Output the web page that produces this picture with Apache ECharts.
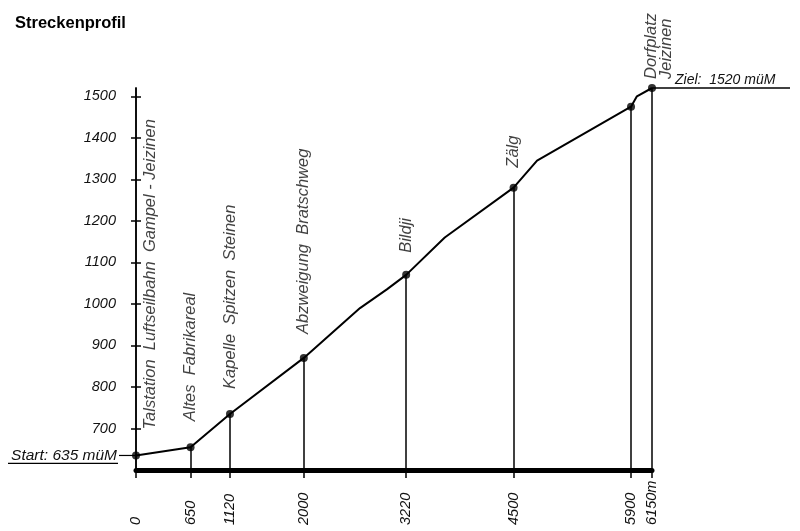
<!DOCTYPE html>
<html>
<head>
<meta charset="utf-8">
<script src="https://cdn.jsdelivr.net/npm/echarts@6/dist/echarts.min.js"></script>
<style>html,body{margin:0;padding:0;background:#fff}#main{width:800px;height:531px}</style>
</head>
<body>
<div id="main"></div>
<script>
// Streckenprofil Gampel - Jeizinen
var profileDist = [0, 650, 1120, 2000, 2670, 2990, 3220, 3680, 4500, 4780, 5900, 5970, 6150];
var profileHeight = [635, 655, 735, 870, 990, 1035, 1070, 1160, 1280, 1345, 1475, 1500, 1520];
var stationDist = [0, 650, 1120, 2000, 3220, 4500, 5900, 6150];
var stationHeight = [635, 655, 735, 870, 1070, 1280, 1475, 1520];
var stationNames = [
  'Talstation  Luftseilbahn  Gampel - Jeizinen',
  'Altes  Fabrikareal',
  'Kapelle  Spitzen  Steinen',
  'Abzweigung  Bratschweg',
  'Bildji',
  'Zälg',
  '',
  'Dorfplatz\nJeizinen'
];
var labelGap = [22, 22, 21, 20, 18, 16, 0, 5];
var yTicks = [700, 800, 900, 1000, 1100, 1200, 1300, 1400, 1500];

var FONT = 'Liberation Sans';
var chartDom = document.getElementById('main');
var myChart = echarts.init(chartDom);

var stationData = stationDist.map(function (d, i) {
  var item = { value: [d, stationHeight[i]] };
  item.label = { distance: labelGap[i] };
  if (i === 0) item.label.offset = [0, 14];
  if (i === stationDist.length - 1) item.label.offset = [0, 7];
  return item;
});

var dropLines = stationDist.slice(1).map(function (d, i) {
  return [{ coord: [d, 600] }, { coord: [d, stationHeight[i + 1]] }];
});

var yBase = {
  type: 'value', position: 'left', min: 600, max: 1520,
  axisLine: { show: true, lineStyle: { color: '#000', width: 1.5 } },
  splitLine: { show: false }
};

var option = {
  backgroundColor: '#fff',
  animation: false,
  title: {
    text: 'Streckenprofil', left: 10, top: 10,
    textStyle: { fontFamily: FONT, fontSize: 16.5, fontWeight: 900, color: '#000' }
  },
  grid: { left: 136, right: 148, top: 88, bottom: 61 },
  xAxis: {
    type: 'value', min: 0, max: 6150,
    axisLine: { show: true, onZero: false, lineStyle: { color: '#000', width: 5 } },
    axisTick: { show: true, length: 8, lineStyle: { color: '#000', width: 1.5 }, customValues: stationDist },
    axisLabel: {
      customValues: stationDist, rotate: 90, align: 'left', verticalAlign: 'middle', margin: 55,
      fontFamily: FONT, fontStyle: 'italic', fontSize: 14.5, color: '#111',
      formatter: function (v) { return v === 6150 ? v + 'm' : String(v); }
    },
    splitLine: { show: false }
  },
  yAxis: [
    Object.assign({}, yBase, {
      axisTick: { show: true, inside: false, length: 5, lineStyle: { color: '#000', width: 1.5 }, customValues: yTicks },
      axisLabel: {
        customValues: yTicks, margin: 20, fontFamily: FONT, fontStyle: 'italic', fontSize: 14.5, color: '#111',
        formatter: function (v) { return String(v); }
      }
    }),
    Object.assign({}, yBase, {
      axisTick: { show: true, inside: true, length: 5, lineStyle: { color: '#000', width: 1.5 }, customValues: yTicks },
      axisLabel: { show: false }
    })
  ],
  series: [
    {
      type: 'line', name: 'Profil', yAxisIndex: 0,
      data: profileDist.map(function (d, i) { return [d, profileHeight[i]]; }),
      showSymbol: false, lineStyle: { color: '#000', width: 2 }, z: 3
    },
    {
      type: 'scatter', name: 'Stationen', yAxisIndex: 0,
      data: stationData, symbolSize: 8, itemStyle: { color: '#000' }, z: 4,
      label: {
        show: true, position: 'top', rotate: 90, align: 'left', verticalAlign: 'middle',
        fontFamily: FONT, fontStyle: 'italic', fontSize: 16.5, color: '#111', lineHeight: 15,
        formatter: function (p) { return stationNames[p.dataIndex]; }
      },
      markLine: {
        silent: true, symbol: 'none', animation: false,
        label: { show: false },
        lineStyle: { color: '#000', width: 1.5, type: 'solid' },
        data: dropLines
      }
    }
  ]
};

myChart.setOption(option);

// Start / Ziel annotations placed via the chart's own scales
var pStart = myChart.convertToPixel({ gridIndex: 0 }, [stationDist[0], stationHeight[0]]);
var last = stationDist.length - 1;
var pEnd = myChart.convertToPixel({ gridIndex: 0 }, [stationDist[last], stationHeight[last]]);
var txt = { fontFamily: FONT, fontStyle: 'italic', fontSize: 15.5, fill: '#111' };
myChart.setOption({
  graphic: [
    { type: 'text', right: 800 - 117, top: pStart[1] - 8, style: Object.assign({ text: 'Start: ' + stationHeight[0] + ' müM' }, txt) },
    { type: 'line', shape: { x1: 8, y1: pStart[1] + 8, x2: 118, y2: pStart[1] + 8 }, style: { stroke: '#000', lineWidth: 1.2 } },
    { type: 'line', shape: { x1: 119, y1: pStart[1], x2: pStart[0], y2: pStart[1] }, style: { stroke: '#000', lineWidth: 1.2 } },
    { type: 'line', shape: { x1: pEnd[0], y1: pEnd[1], x2: 790, y2: pEnd[1] }, style: { stroke: '#000', lineWidth: 1.5 } },
    { type: 'text', left: 675, top: pEnd[1] - 15, style: Object.assign({ text: 'Ziel:  ' + stationHeight[last] + ' müM' }, txt, { fontSize: 14 }) }
  ]
});
</script>
</body>
</html>
